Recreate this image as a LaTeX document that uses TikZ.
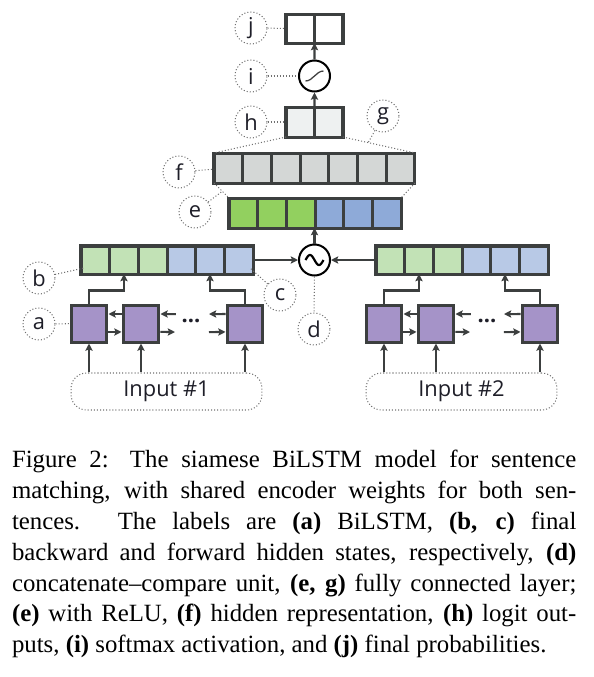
\documentclass[tikz,border=0pt]{standalone}
\usepackage{fontspec}
\setmainfont{Liberation Serif}
\newfontfamily\dgfont{Open Sans}
\usetikzlibrary{arrows.meta,calc}
\definecolor{lnc}{HTML}{3C3F3F}
\definecolor{txc}{HTML}{1E1E28}
\definecolor{dotc}{HTML}{707070}
\definecolor{cgreen}{HTML}{92D05F}
\definecolor{cblue}{HTML}{8EAAD8}
\definecolor{lgreen}{HTML}{C2E2B6}
\definecolor{lblue}{HTML}{B8C9E6}
\definecolor{cpurple}{HTML}{A593C8}
\definecolor{cgray}{HTML}{D4D7D6}
\definecolor{clight}{HTML}{EEF1F1}
\newcommand\capline[1]{\noindent\hbox to 219.6pt{#1}\par}
\begin{document}
\begin{tikzpicture}[x=0.3891pt,y=-0.3891pt,
  cellbox/.style={draw=lnc,line width=1.17pt,inner sep=0pt,outer sep=0pt,minimum width=11.155pt},
  lstm/.style={draw=lnc,fill=cpurple,line width=1.17pt,inner sep=0pt,minimum width=14pt,minimum height=14.4pt},
  lbl/.style={circle,draw=dotc,line width=0.4pt,dash pattern=on 0.4pt off 0.8pt,minimum size=12.45pt,inner sep=0pt,font=\dgfont\fontsize{8.5pt}{10pt}\selectfont,text=txc},
  dotline/.style={draw=dotc,line width=0.4pt,dash pattern=on 0.4pt off 0.8pt},
  arr/.style={draw=lnc,line width=0.78pt,-{Stealth[length=2.8pt,width=2.8pt,inset=0.5pt]}},
  inp/.style={draw=dotc,line width=0.4pt,dash pattern=on 0.4pt off 0.8pt,rounded corners=6pt,minimum width=74.3pt,minimum height=14.4pt,inner sep=0pt,font=\dgfont\fontsize{8.5pt}{10pt}\selectfont,text=txc},
  op/.style={circle,draw=black,line width=0.78pt,fill=white,minimum size=12.06pt,inner sep=0pt}
]
\useasboundingbox (0,0) rectangle (594,677);

% ---- top: j, i, h ----
\foreach \i in {1,2}
  \node[cellbox,fill=white,minimum width=11.09pt,minimum height=11.28pt] (j\i) at ({286+28.5*(\i-0.5)},28.5) {};
\node[op] (ic) at (314.5,76) {};
\draw[line width=0.5pt,black!75] (305.5,81) .. controls (313,81) and (316,71) .. (323.5,71);
\foreach \i in {1,2}
  \node[cellbox,fill=clight,minimum width=11.09pt,minimum height=11.67pt] (h\i) at ({286+28.5*(\i-0.5)},122) {};

% ---- f, e ----
\foreach \i in {1,...,7}
  \node[cellbox,fill=cgray,minimum width=11.17pt,minimum height=11.67pt] (f\i) at ({214+28.71*(\i-0.5)},168) {};
\foreach \i/\c in {1/cgreen,2/cgreen,3/cgreen,4/cblue,5/cblue,6/cblue}
  \node[cellbox,fill=\c,minimum height=11.67pt] (e\i) at ({229+28.67*(\i-0.5)},213) {};

% ---- encoder outputs ----
\foreach \i/\c in {1/lgreen,2/lgreen,3/lgreen,4/lblue,5/lblue,6/lblue}{
  \node[cellbox,fill=\c,minimum height=10.9pt] (bL\i) at ({81+28.67*(\i-0.5)},260) {};
  \node[cellbox,fill=\c,minimum height=10.9pt] (bR\i) at ({376+28.67*(\i-0.5)},260) {};
}

% ---- compare unit ----
\node[op] (dc) at (314.5,260) {};
\draw[line width=0.85pt,black] plot[domain=-9:9,samples=40] ({314.5+\x},{260+5*sin(\x*20)});

% ---- BiLSTM cells ----
\node[lstm] (aL1) at (89,323.5) {};
\node[lstm] (aL2) at (141,323.5) {};
\node[lstm] (aL3) at (245,323.5) {};
\node[lstm] (aR1) at (384,323.5) {};
\node[lstm] (aR2) at (436,323.5) {};
\node[lstm] (aR3) at (540,323.5) {};
\node[font=\dgfont\bfseries\fontsize{8.5pt}{10pt}\selectfont,text=txc,inner sep=0pt] (dotsL) at (191,321) {...};
\node[font=\dgfont\bfseries\fontsize{8.5pt}{10pt}\selectfont,text=txc,inner sep=0pt] (dotsR) at (487,321) {...};

% ---- inputs ----
\node[inp] (in1) at (166.5,391.5) {Input \#1};
\node[inp] (in2) at (461.5,391.5) {Input \#2};

% ---- label circles ----
\node[lbl] (Lj) at (251,28) {j};
\node[lbl] (Li) at (251,76) {i};
\node[lbl] (Lh) at (251,122) {h};
\node[lbl] (Lg) at (383,116) {g};
\node[lbl] (Lf) at (179,172) {f};
\node[lbl] (Le) at (195,212) {e};
\node[lbl] (Lb) at (39,278) {b};
\node[lbl] (Lc) at (280,295) {c};
\node[lbl] (La) at (39,324) {a};
\node[lbl] (Ld) at (314,329) {d};

% ---- arrows top ----
\draw[arr] (h1.north east) -- (ic);
\draw[arr] (ic) -- (j1.south east);
\draw[arr] (dc) -- (dc.north |- e3.south);
\draw[arr] (bL6.east) -- (dc);
\draw[arr] (bR1.west) -- (dc);

% ---- fans (dotted) ----
\draw[dotline] (h1.south west) -- (f1.north west);
\draw[dotline] (h2.south east) -- (f7.north east);
\draw[dotline] (f1.south west) -- (e1.north west);
\draw[dotline] (f7.south east) -- (e6.north east);
\coordinate (gp) at ($(h2.south east)!0.35!(f7.north east)$);
\coordinate (ep) at ($(f1.south west)!0.55!(e1.north west)$);
\coordinate (bp) at (84,268);
\coordinate (cp) at (250,268);
\draw[dotline] (Lg) -- (gp);
\draw[dotline] (Le) -- (ep);
\draw[dotline] (Lb) -- (bp);
\draw[dotline] (Lc) -- (cp);
\draw[dotline] (Lj) -- (j1);
\draw[dotline] (Li) -- (ic);
\draw[dotline] (Lh) -- (h1);
\draw[dotline] (Lf) -- (f1);
\draw[dotline] (La) -- (aL1);
\draw[dotline] (dc) -- (Ld);

% ---- BiLSTM recurrences ----
\foreach \s/\o in {L/0,R/295}{
  \draw[arr] ([yshift=3.7pt]a\s2.west) -- ([yshift=3.7pt]a\s1.east);
  \draw[arr] ([yshift=-3.3pt]a\s1.east) -- ([yshift=-3.3pt]a\s2.west);
  \coordinate (u\s2) at ({176+\o},314);
  \coordinate (v\s2) at ({175+\o},332);
  \coordinate (u\s3) at ({209+\o},314);
  \coordinate (v\s3) at ({209+\o},332);
  \draw[arr] (u\s2) -- ([yshift=3.7pt]a\s2.east);
  \draw[arr] ([yshift=-3.3pt]a\s2.east) -- (v\s2);
  \draw[arr] ([yshift=3.7pt]a\s3.west) -- (u\s3);
  \draw[arr] (v\s3) -- ([yshift=-3.3pt]a\s3.west);
  \draw[arr] (a\s1.north) -- ++(0,-13) -| (b\s2.south);
  \draw[arr] (a\s3.north) -- ++(0,-13) -| (b\s5.south);
}
\foreach \k in {1,2,3}{
  \draw[arr] (aL\k.south |- in1.north) -- (aL\k.south);
  \draw[arr] (aR\k.south |- in2.north) -- (aR\k.south);
}

% ---- caption ----
\node[anchor=north west,inner sep=0pt,text width=219.6pt,font=\fontsize{9.65pt}{11.98pt}\selectfont] (cap) at (11.5,450) {%
\spaceskip=0pt\xspaceskip=0pt\rightskip=0pt\leftskip=0pt\parindent=0pt\parskip=0pt%
\capline{Figure 2: The siamese BiLSTM model for sentence}%
\capline{matching, with shared encoder weights for both sen-}%
\capline{tences. The labels are \textbf{(a)} BiLSTM, \textbf{(b, c)} final}%
\capline{backward and forward hidden states, respectively, \textbf{(d)}}%
\capline{concatenate--compare unit, \textbf{(e, g)} fully connected layer;}%
\capline{\textbf{(e)} with ReLU, \textbf{(f)} hidden representation, \textbf{(h)} logit out-}%
\noindent\hbox{puts, \textbf{(i)} softmax activation, and \textbf{(j)} final probabilities.}\par};
\end{tikzpicture}
\end{document}
